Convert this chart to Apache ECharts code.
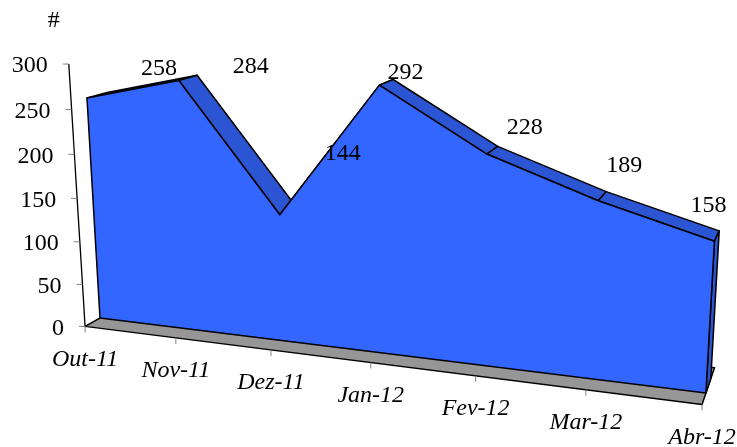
<!DOCTYPE html>
<html>
<head>
<meta charset="utf-8">
<style>html,body{margin:0;padding:0;background:#fff}#chart{width:737px;height:447px}</style>
<script src="https://cdn.jsdelivr.net/npm/echarts@6/dist/echarts.min.js"></script>
</head>
<body>
<div id="chart"></div>
<script>
// Monthly counts
const categories = ['Out-11', 'Nov-11', 'Dez-11', 'Jan-12', 'Fev-12', 'Mar-12', 'Abr-12'];
const values = [258, 284, 144, 292, 228, 189, 158];
const valueTicks = [0, 50, 100, 150, 200, 250, 300];
const axisTitle = '#';

// Where each value label sits relative to its point on the front face
const labelShiftX = [72, 72, 63, 26, 38, 26, -6];
const labelShiftY = [-29, -14, -61, -12, -26, -35, -36];

const FONT = '"Liberation Serif", "Times New Roman", serif';
const FONT_SIZE = 24;
const FRONT_BLUE = '#3366FF';
const SIDE_BLUE = '#2B55D2';
const FLOOR_GREY = '#969696';
const TICK_GREY = '#808080';

// Depth positions, with the front face at 0 and its back edge at 1
const DEPTH_AXIS = -0.75;
const DEPTH_BACK = 1;
const DEPTH_FLOOR_BACK = 1.8;

// Perspective projection of the hidden cartesian grid (u = month index,
// v = value, d = depth) on to the page.
function project(gridPoint, d) {
  const u = gridPoint[0] / 100;
  const v = 300 - gridPoint[1];
  const w = 1 - 0.0225 * u - 0.000155 * v + 0.025 * d;
  return [
    (85.1 * u - 0.064 * v + 100 + 22 * d) / w,
    (3.66 * u - 0.868 * v + 318 - 3 * d) / w
  ];
}

const at = (api, i, v, d) => project(api.coord([i, v]), d);
const outline = { stroke: '#000', lineWidth: 1.5, lineJoin: 'round' };

function polygon(points, fill, extra) {
  return {
    type: 'polygon',
    shape: { points: points },
    style: Object.assign({ fill: fill }, outline, extra || {})
  };
}

function textEl(text, x, y, align, italic) {
  return {
    type: 'text',
    style: {
      text: text, x: x, y: y, align: align, verticalAlign: 'middle',
      fill: '#000', font: (italic ? 'italic ' : '') + FONT_SIZE + 'px ' + FONT
    }
  };
}

function line(a, b, stroke, width) {
  return {
    type: 'line',
    shape: { x1: a[0], y1: a[1], x2: b[0], y2: b[1] },
    style: { stroke: stroke, lineWidth: width }
  };
}

const last = categories.length - 1;

const option = {
  animation: false,
  backgroundColor: '#fff',
  grid: { left: 0, top: 0, width: 600, height: 300 },
  xAxis: { type: 'category', data: categories, boundaryGap: false, show: false },
  yAxis: { type: 'value', min: 0, max: 300, interval: 50, show: false },
  series: [
    // Floor slab
    {
      type: 'custom', coordinateSystem: 'cartesian2d', z: 1, silent: true,
      data: [[0, 0]],
      renderItem: (params, api) => polygon([
        at(api, 0, 0, DEPTH_AXIS),
        at(api, last, 0, DEPTH_AXIS),
        at(api, last, 0, DEPTH_FLOOR_BACK),
        at(api, 0, 0, DEPTH_FLOOR_BACK)
      ], FLOOR_GREY)
    },
    // Value axis line
    {
      type: 'custom', coordinateSystem: 'cartesian2d', z: 2, silent: true,
      data: [[0, 0]],
      renderItem: (params, api) => line(at(api, 0, 0, DEPTH_AXIS), at(api, 0, 300, DEPTH_AXIS), '#000', 1.3)
    },
    // Value axis ticks and labels
    {
      type: 'custom', coordinateSystem: 'cartesian2d', z: 2, silent: true,
      data: valueTicks.map(v => [0, v]),
      renderItem: (params, api) => {
        const p = at(api, 0, api.value(1), DEPTH_AXIS);
        return {
          type: 'group',
          children: [
            line([p[0] - 6, p[1]], p, TICK_GREY, 1),
            textEl(String(api.value(1)), p[0] - 21, p[1] + 2, 'right', false)
          ]
        };
      }
    },
    // Month ticks and labels along the floor edge
    {
      type: 'custom', coordinateSystem: 'cartesian2d', z: 2, silent: true,
      data: categories.map((c, i) => [i, 0]),
      renderItem: (params, api) => {
        const i = api.value(0);
        const p = at(api, i, 0, DEPTH_AXIS);
        return {
          type: 'group',
          children: [
            line(p, [p[0], p[1] + 6], TICK_GREY, 1),
            textEl(categories[i], p[0], p[1] + 33, 'center', true)
          ]
        };
      }
    },
    // Top faces between neighbouring months
    {
      type: 'custom', coordinateSystem: 'cartesian2d', z: 3, silent: true,
      data: values.slice(0, -1).map((v, i) => [i, v]),
      renderItem: (params, api) => {
        const i = api.value(0);
        return polygon([
          at(api, i, values[i], 0),
          at(api, i + 1, values[i + 1], 0),
          at(api, i + 1, values[i + 1], DEPTH_BACK),
          at(api, i, values[i], DEPTH_BACK)
        ], SIDE_BLUE);
      }
    },
    // End cap on the last month
    {
      type: 'custom', coordinateSystem: 'cartesian2d', z: 3, silent: true,
      data: [[last, values[last]]],
      renderItem: (params, api) => polygon([
        at(api, last, 0, 0),
        at(api, last, api.value(1), 0),
        at(api, last, api.value(1), DEPTH_BACK),
        at(api, last, 0, DEPTH_BACK)
      ], SIDE_BLUE)
    },
    // Front face of the area
    {
      type: 'custom', coordinateSystem: 'cartesian2d', z: 4, silent: true,
      data: [[0, values[0]]],
      renderItem: (params, api) => polygon(
        [at(api, 0, 0, 0)]
          .concat(values.map((v, i) => at(api, i, v, 0)))
          .concat([at(api, last, 0, 0)]),
        FRONT_BLUE
      )
    },
    // Value labels
    {
      type: 'custom', coordinateSystem: 'cartesian2d', z: 5, silent: true,
      data: values.map((v, i) => [i, v]),
      renderItem: (params, api) => {
        const i = api.value(0);
        const p = at(api, i, api.value(1), 0);
        return textEl(String(api.value(1)), p[0] + labelShiftX[i], p[1] + labelShiftY[i], 'center', false);
      }
    },
    // Axis title
    {
      type: 'custom', coordinateSystem: 'cartesian2d', z: 5, silent: true,
      data: [[0, 300]],
      renderItem: (params, api) => {
        const p = at(api, 0, api.value(1), DEPTH_AXIS);
        return textEl(axisTitle, p[0] - 15, p[1] - 43, 'center', false);
      }
    }
  ]
};

echarts.init(document.getElementById('chart'), null, { renderer: 'canvas' }).setOption(option);
</script>
</body>
</html>
